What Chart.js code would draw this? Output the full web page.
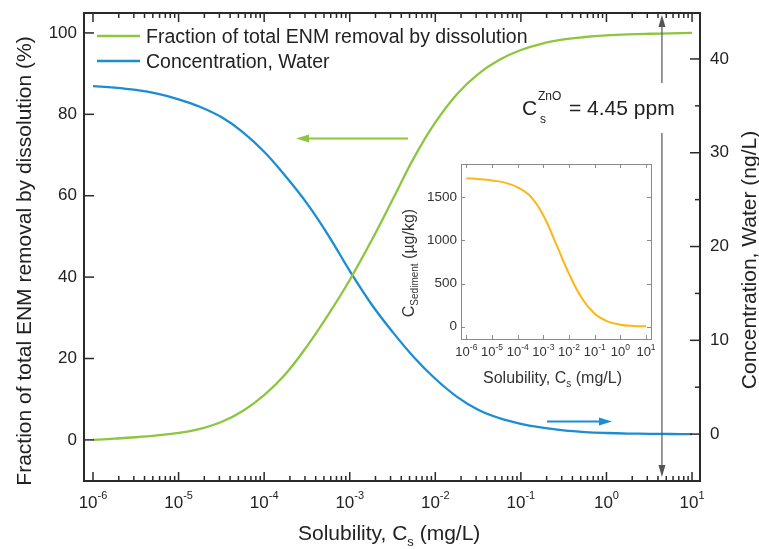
<!DOCTYPE html>
<html>
<head>
<meta charset="utf-8">
<script src="https://cdn.jsdelivr.net/npm/chart.js@4.4.1/dist/chart.umd.min.js"></script>
<style>
  body { margin: 0; background: #fff; }
  #wrap { position: relative; width: 759px; height: 549px; }
  #wrap canvas { position: absolute; left: 0; top: 0; }
</style>
</head>
<body>
<div id="wrap">
  <canvas id="mainChart" width="759" height="549"></canvas>
  <canvas id="insetChart" width="759" height="549"></canvas>
</div>
<script>
// ---- data ----
// solubility grid as powers of ten (mg/L)
const solExp = [-6, -5.75, -5.5, -5.25, -5, -4.75, -4.5, -4.25, -4, -3.75, -3.5, -3.25, -3, -2.75,
  -2.5, -2.25, -2, -1.75, -1.5, -1.25, -1, -0.75, -0.5, -0.25, 0, 0.25, 0.5, 0.75, 1];
// fraction of total ENM removal by dissolution (%)
const fractionDissolved = [0, 0.3, 0.65, 1.1, 1.7, 2.7, 4.4, 7.1, 11.0, 16.2, 23.0, 30.8, 39.3, 48.8,
  59.0, 69.3, 78.0, 84.9, 89.9, 93.4, 95.8, 97.4, 98.4, 99.0, 99.4, 99.65, 99.8, 99.9, 100];
// concentration in water (ng/L)
const waterConc = [37.1, 36.95, 36.7, 36.3, 35.7, 34.9, 33.8, 32.2, 30.1, 27.5, 24.6, 21.2, 17.4, 13.9,
  10.9, 8.2, 5.9, 4.0, 2.6, 1.7, 1.1, 0.7, 0.4, 0.22, 0.12, 0.06, 0.03, 0.01, 0];
// inset: sediment concentration (ug/kg)
const insetExp = [-6, -5.5, -5, -4.5, -4, -3.5, -3, -2.5, -2, -1.5, -1, -0.5, 0, 0.5, 1];
const sedimentConc = [1720, 1710, 1695, 1670, 1615, 1510, 1290, 958, 612, 330, 150, 62, 22, 8, 4];

// tick labels
const xTickExp = [-6, -5, -4, -3, -2, -1, 0, 1];
const leftTicks = [0, 20, 40, 60, 80, 100];
const rightTicks = [0, 10, 20, 30, 40];
const rightMinor = [5, 15, 25, 35];
const insetYTicks = [0, 500, 1000, 1500];

const GREEN = '#8cc63f';
const BLUE = '#1a8dd3';
const ORANGE = '#fdb714';
const INK = '#222';
const FAM = '"Liberation Sans", Arial, sans-serif';
const font = px => px + 'px ' + FAM;

function line(ctx, x1, y1, x2, y2) {
  ctx.beginPath(); ctx.moveTo(x1, y1); ctx.lineTo(x2, y2); ctx.stroke();
}

// "10" with a raised exponent, centred on x
function drawPow(ctx, x, y, size, exp, supSize, rise) {
  ctx.font = font(size);
  const w1 = ctx.measureText('10').width;
  ctx.font = font(supSize);
  const w2 = ctx.measureText(exp).width;
  const left = x - (w1 + w2) / 2;
  ctx.textAlign = 'left';
  ctx.textBaseline = 'alphabetic';
  ctx.font = font(size);
  ctx.fillText('10', left, y);
  ctx.font = font(supSize);
  ctx.fillText(exp, left + w1, y - rise);
}

function arrow(ctx, x1, y1, x2, y2, color, width, headLen, headHalf) {
  const ang = Math.atan2(y2 - y1, x2 - x1);
  const bx = x2 - Math.cos(ang) * headLen, by = y2 - Math.sin(ang) * headLen;
  ctx.strokeStyle = color; ctx.fillStyle = color; ctx.lineWidth = width;
  line(ctx, x1, y1, bx, by);
  ctx.beginPath();
  ctx.moveTo(x2, y2);
  ctx.lineTo(bx - Math.sin(ang) * headHalf, by + Math.cos(ang) * headHalf);
  ctx.lineTo(bx + Math.sin(ang) * headHalf, by - Math.cos(ang) * headHalf);
  ctx.closePath(); ctx.fill();
}

// ---- main chart decorations ----
const mainDeco = {
  id: 'mainDeco',
  afterDatasetsDraw(chart) {
    const ctx = chart.ctx;
    const { left, right, top, bottom } = chart.chartArea;
    const x = chart.scales.x, y = chart.scales.y, y1 = chart.scales.y1;
    ctx.save();

    // frame
    ctx.strokeStyle = '#2a2a2a'; ctx.lineWidth = 2;
    ctx.strokeRect(left, top, right - left, bottom - top);

    // x ticks, bottom and top, pointing in
    ctx.lineWidth = 1.5;
    xTickExp.forEach(e => {
      const px = x.getPixelForValue(Math.pow(10, e));
      line(ctx, px, bottom, px, bottom - 9);
      line(ctx, px, top, px, top + 9);
      if (e < 1) {
        for (let m = 2; m <= 9; m++) {
          const mx = x.getPixelForValue(m * Math.pow(10, e));
          line(ctx, mx, bottom, mx, bottom - 5);
          line(ctx, mx, top, mx, top + 5);
        }
      }
    });
    leftTicks.forEach(v => {
      const py = y.getPixelForValue(v);
      line(ctx, left, py, left + 10, py);
    });
    rightTicks.forEach(v => {
      const py = y1.getPixelForValue(v);
      line(ctx, right, py, right - 10, py);
    });
    rightMinor.forEach(v => {
      const py = y1.getPixelForValue(v);
      line(ctx, right, py, right - 5, py);
    });

    // tick labels
    ctx.fillStyle = INK;
    ctx.font = font(17);
    ctx.textBaseline = 'middle';
    ctx.textAlign = 'right';
    leftTicks.forEach(v => ctx.fillText(String(v), left - 7, y.getPixelForValue(v)));
    ctx.textAlign = 'left';
    rightTicks.forEach(v => ctx.fillText(String(v), right + 10, y1.getPixelForValue(v)));
    xTickExp.forEach(e => {
      drawPow(ctx, x.getPixelForValue(Math.pow(10, e)), 508, 17, String(e), 11, 9);
    });

    // axis titles
    ctx.font = font(21);
    ctx.textBaseline = 'alphabetic';
    ctx.save();
    ctx.translate(31, 261); ctx.rotate(-Math.PI / 2);
    ctx.textAlign = 'center';
    ctx.fillText('Fraction of total ENM removal by dissolution (%)', 0, 0);
    ctx.restore();
    ctx.save();
    ctx.translate(756, 260); ctx.rotate(-Math.PI / 2);
    ctx.textAlign = 'center';
    ctx.fillText('Concentration, Water (ng/L)', 0, 0);
    ctx.restore();

    // x title with subscript
    ctx.textAlign = 'left';
    let tx = 298;
    ctx.font = font(21); ctx.fillText('Solubility, C', tx, 540);
    tx += ctx.measureText('Solubility, C').width;
    ctx.font = font(13); ctx.fillText('s', tx, 546);
    tx += ctx.measureText('s').width;
    ctx.font = font(21); ctx.fillText(' (mg/L)', tx, 540);

    // legend
    ctx.lineWidth = 2.5;
    ctx.strokeStyle = GREEN; line(ctx, 97, 36, 140, 36);
    ctx.strokeStyle = BLUE; line(ctx, 97, 61, 140, 61);
    ctx.font = font(19.5);
    ctx.fillStyle = INK;
    ctx.fillText('Fraction of total ENM removal by dissolution', 146, 43);
    ctx.fillText('Concentration, Water', 146, 68);

    // direction arrows
    arrow(ctx, 408, 138.5, 296, 138.5, GREEN, 2, 13, 4);
    arrow(ctx, 547, 421.5, 612, 421.5, BLUE, 2, 13, 4);

    // solubility marker for ZnO
    const sx = x.getPixelForValue(4.45);
    arrow(ctx, sx, 83, sx, top + 2, '#555', 1.2, 12, 3.5);
    arrow(ctx, sx, 133, sx, bottom - 4, '#555', 1.2, 12, 3.5);
    ctx.fillStyle = INK;
    ctx.font = font(21);
    ctx.fillText('C', 522, 115);
    ctx.font = font(12);
    ctx.fillText('ZnO', 538, 100);
    ctx.fillText('s', 540, 123);
    ctx.font = font(21);
    ctx.fillText('= 4.45 ppm', 569, 115);

    ctx.restore();
  }
};

new Chart(document.getElementById('mainChart'), {
  type: 'line',
  data: {
    datasets: [
      {
        label: 'Fraction of total ENM removal by dissolution',
        data: solExp.map((e, i) => ({ x: Math.pow(10, e), y: fractionDissolved[i] })),
        borderColor: GREEN,
        borderWidth: 2.3,
        yAxisID: 'y'
      },
      {
        label: 'Concentration, Water',
        data: solExp.map((e, i) => ({ x: Math.pow(10, e), y: waterConc[i] })),
        borderColor: BLUE,
        borderWidth: 2.3,
        yAxisID: 'y1'
      }
    ]
  },
  options: {
    responsive: false,
    animation: false,
    devicePixelRatio: 1,
    layout: { padding: { left: 84, top: 13, right: 59, bottom: 68 } },
    elements: { point: { radius: 0 }, line: { tension: 0.4 } },
    plugins: { legend: { display: false }, tooltip: { enabled: false } },
    scales: {
      x: { type: 'logarithmic', display: false, min: 7.85e-7, max: 12.39 },
      y: { display: false, min: -10.1, max: 104.9 },
      y1: { display: false, min: -5.0, max: 44.9 }
    }
  },
  plugins: [mainDeco]
});

// ---- inset chart ----
const insetDeco = {
  id: 'insetDeco',
  beforeDatasetsDraw(chart) {
    const ctx = chart.ctx;
    const { left, right, top, bottom } = chart.chartArea;
    ctx.save();
    ctx.fillStyle = '#fff';
    ctx.fillRect(left, top, right - left, bottom - top);
    ctx.restore();
  },
  afterDatasetsDraw(chart) {
    const ctx = chart.ctx;
    const { left, right, top, bottom } = chart.chartArea;
    const x = chart.scales.x, y = chart.scales.y;
    ctx.save();
    ctx.strokeStyle = '#8a8a8a'; ctx.lineWidth = 1;
    ctx.strokeRect(left + 0.5, top + 0.5, right - left, bottom - top);
    xTickExp.forEach(e => {
      const px = Math.round(x.getPixelForValue(Math.pow(10, e))) + 0.5;
      line(ctx, px, bottom, px, bottom - 4);
      line(ctx, px, top, px, top + 4);
    });
    insetYTicks.forEach(v => {
      const py = Math.round(y.getPixelForValue(v)) + 0.5;
      line(ctx, left, py, left + 4, py);
      line(ctx, right, py, right - 4, py);
    });

    ctx.fillStyle = '#333';
    ctx.font = font(13.5);
    ctx.textAlign = 'right';
    ctx.textBaseline = 'middle';
    insetYTicks.forEach(v => ctx.fillText(String(v), left - 4, y.getPixelForValue(v)));
    xTickExp.forEach(e => {
      drawPow(ctx, x.getPixelForValue(Math.pow(10, e)), 356, 13, String(e), 8.5, 6);
    });

    // x title
    ctx.textBaseline = 'alphabetic';
    ctx.textAlign = 'left';
    let tx = 483;
    ctx.font = font(16); ctx.fillText('Solubility, C', tx, 383);
    tx += ctx.measureText('Solubility, C').width;
    ctx.font = font(10); ctx.fillText('s', tx, 387);
    tx += ctx.measureText('s').width;
    ctx.font = font(16); ctx.fillText(' (mg/L)', tx, 383);

    // y title
    ctx.save();
    ctx.translate(414, 0); ctx.rotate(-Math.PI / 2);
    ctx.font = font(16);
    const wC = ctx.measureText('C').width;
    const wU = ctx.measureText(' (\u00b5g/kg)').width;
    ctx.font = font(10);
    const wS = ctx.measureText('Sediment').width;
    let ty = -263 - (wC + wS + wU) / 2;
    ctx.font = font(16); ctx.fillText('C', ty, 0); ty += wC;
    ctx.font = font(10); ctx.fillText('Sediment', ty, 4); ty += wS;
    ctx.font = font(16); ctx.fillText(' (\u00b5g/kg)', ty, 0);
    ctx.restore();

    ctx.restore();
  }
};

new Chart(document.getElementById('insetChart'), {
  type: 'line',
  data: {
    datasets: [{
      label: 'C Sediment',
      data: insetExp.map((e, i) => ({ x: Math.pow(10, e), y: sedimentConc[i] })),
      borderColor: ORANGE,
      borderWidth: 2
    }]
  },
  options: {
    responsive: false,
    animation: false,
    devicePixelRatio: 1,
    layout: { padding: { left: 461, top: 164, right: 108, bottom: 210 } },
    elements: { point: { radius: 0 }, line: { tension: 0.4 } },
    plugins: { legend: { display: false }, tooltip: { enabled: false } },
    scales: {
      x: { type: 'logarithmic', display: false, min: 6.17e-7, max: 15.67 },
      y: { display: false, min: -143, max: 1886 }
    }
  },
  plugins: [insetDeco]
});
</script>
</body>
</html>
